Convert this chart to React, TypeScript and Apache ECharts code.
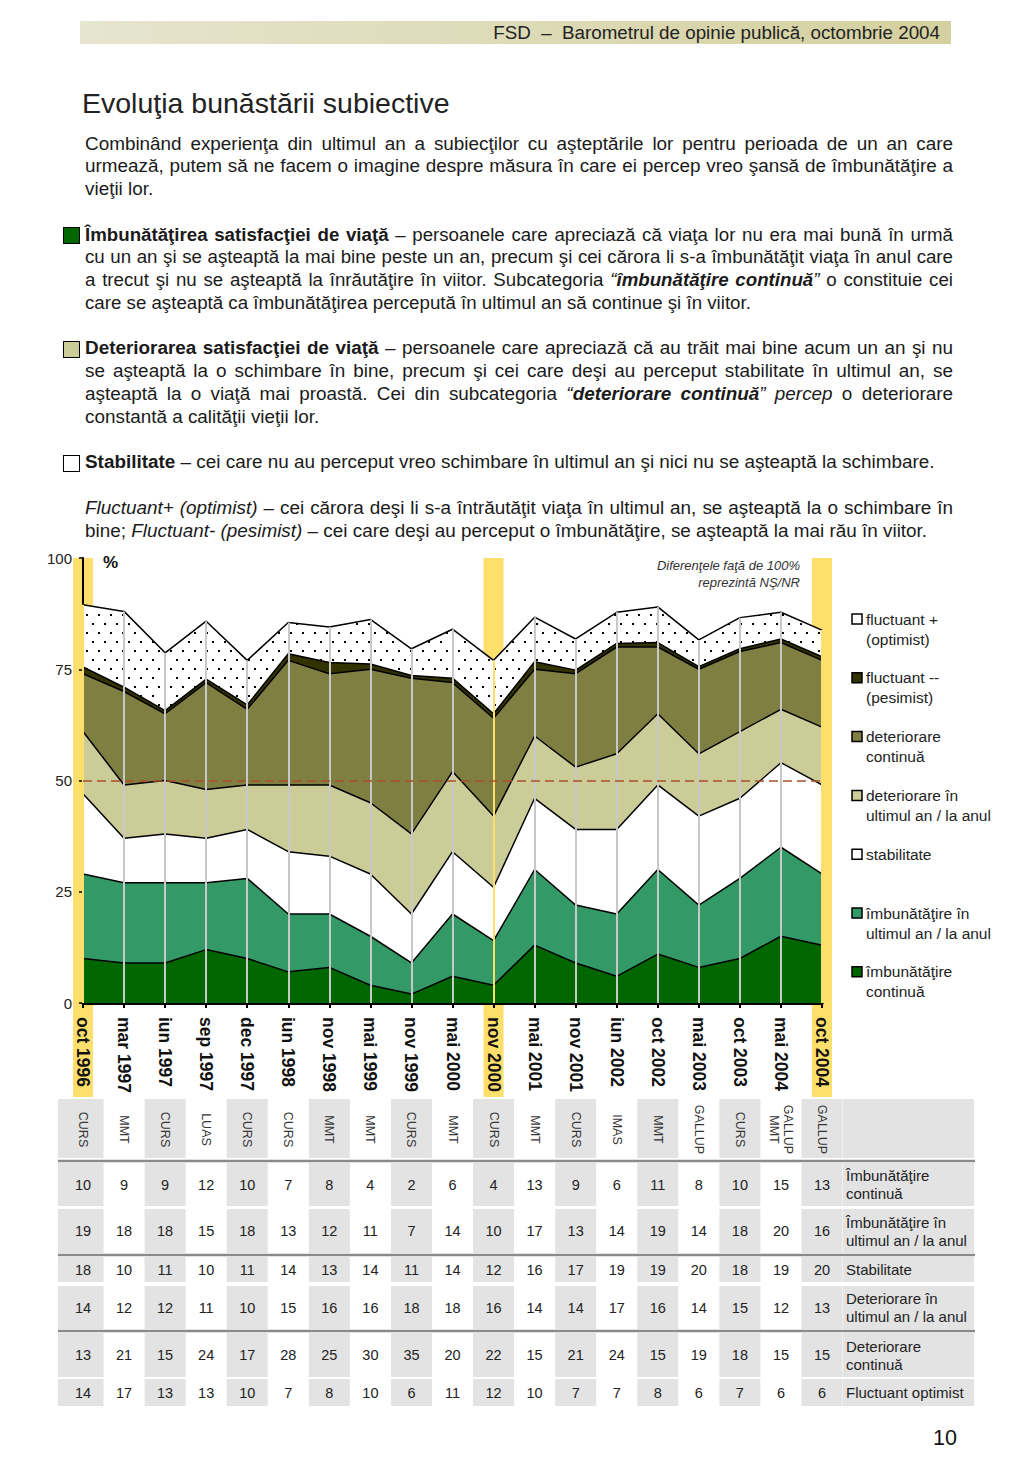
import React, { useEffect, useRef } from "react";
import * as echarts from "echarts";

// ---------- DATA ----------
const categories = [
  "oct 1996", "mar 1997", "iun 1997", "sep 1997", "dec 1997", "iun 1998", "nov 1998",
  "mai 1999", "nov 1999", "mai 2000", "nov 2000", "mai 2001", "nov 2001", "iun 2002",
  "oct 2002", "mai 2003", "oct 2003", "mai 2004", "oct 2004",
];
const institutes = [
  "CURS", "MMT", "CURS", "LUAS", "CURS", "CURS", "MMT", "MMT", "CURS", "MMT",
  "CURS", "MMT", "CURS", "IMAS", "MMT", "GALLUP", "CURS", "GALLUP\nMMT", "GALLUP",
];
const imbunatatireContinua = [10, 9, 9, 12, 10, 7, 8, 4, 2, 6, 4, 13, 9, 6, 11, 8, 10, 15, 13];
const imbunatatireUltimAn = [19, 18, 18, 15, 18, 13, 12, 11, 7, 14, 10, 17, 13, 14, 19, 14, 18, 20, 16];
const stabilitate = [18, 10, 11, 10, 11, 14, 13, 14, 11, 14, 12, 16, 17, 19, 19, 20, 18, 19, 20];
const deteriorareUltimAn = [14, 12, 12, 11, 10, 15, 16, 16, 18, 18, 16, 14, 14, 17, 16, 14, 15, 12, 13];
const deteriorareContinua = [13, 21, 15, 24, 17, 28, 25, 30, 35, 20, 22, 15, 21, 24, 15, 19, 18, 15, 15];
const fluctuantPesimist = [1.5, 1, 0.7, 0.8, 1, 1.5, 2.5, 1.2, 0.6, 1, 1, 1.7, 0.8, 0.8, 1, 0.6, 0.6, 0.8, 0.8];
const fluctuantOptimist = [14, 17, 13, 13, 10, 7, 8, 10, 6, 11, 12, 10, 7, 7, 8, 6, 7, 6, 6];
const highlightedCategories = ["oct 1996", "nov 2000", "oct 2004"];
const referenceLineValue = 50;
const yMin = 0;
const yMax = 100;
const yInterval = 25;

const seriesNames = [
  "îmbunătăţire\ncontinuă",
  "îmbunătăţire în\nultimul an / la anul",
  "stabilitate",
  "deteriorare în\nultimul an / la anul",
  "deteriorare\ncontinuă",
  "fluctuant --\n(pesimist)",
  "fluctuant +\n(optimist)",
];
const seriesData = [
  imbunatatireContinua, imbunatatireUltimAn, stabilitate, deteriorareUltimAn,
  deteriorareContinua, fluctuantPesimist, fluctuantOptimist,
];
const seriesColors = ["#006600", "#339966", "#ffffff", "#cccc99", "#7f7f42", "#333300", "dots"];

const tableRowLabels = [
  "Îmbunătăţire\ncontinuă",
  "Îmbunătăţire în\nultimul an / la anul",
  "Stabilitate",
  "Deteriorare în\nultimul an / la anul",
  "Deteriorare\ncontinuă",
  "Fluctuant optimist",
];
const tableRows = [
  imbunatatireContinua, imbunatatireUltimAn, stabilitate,
  deteriorareUltimAn, deteriorareContinua, fluctuantOptimist,
];

// ---------- LAYOUT ----------
const FONT = "'Liberation Sans', Arial, Helvetica, sans-serif";
const CHART_TOP = 540;
const tableHeaderBand = [1099, 1158];
const tableRowBands = [[1163, 1206], [1209, 1253], [1257, 1282], [1286, 1329], [1333, 1377], [1379, 1406]];
const tableSeparators = [1161, 1255, 1331];

function Chart() {
  const ref = useRef<HTMLDivElement>(null);
  useEffect(() => {
    const chart = echarts.init(ref.current!, null, { renderer: "svg" });

    const dots = document.createElement("canvas");
    dots.width = 12;
    dots.height = 18;
    const ctx = dots.getContext("2d")!;
    ctx.fillStyle = "#ffffff";
    ctx.fillRect(0, 0, 12, 18);
    ctx.fillStyle = "#000000";
    ctx.fillRect(2, 2, 2, 2);
    ctx.fillRect(8, 11, 2, 2);
    const dotPattern: any = { image: dots, repeat: "repeat" };

    const totals = categories.map((_, i) => seriesData.reduce((s, d) => s + d[i], 0));

    const areaSeries = seriesData.map((d, k) => ({
      name: seriesNames[k],
      type: "line",
      stack: "total",
      data: d,
      symbol: "none",
      showSymbol: false,
      silent: true,
      z: 2,
      lineStyle: { color: "#000", width: 1.5 },
      areaStyle: { color: seriesColors[k] === "dots" ? dotPattern : seriesColors[k], opacity: 1 },
    }));

    const option: any = {
      animation: false,
      textStyle: { fontFamily: FONT },
      grid: { left: 83, right: 202, top: 18, bottom: 417, containLabel: false },
      xAxis: {
        type: "category",
        data: categories,
        boundaryGap: false,
        axisLine: { show: true, lineStyle: { color: "#000", width: 3 } },
        axisTick: { show: true, length: 5, lineStyle: { color: "#000", width: 2 } },
        axisLabel: {
          rotate: -90, interval: 0, margin: 14, fontSize: 17.5, fontWeight: "bold",
          color: "#111", fontFamily: FONT,
        },
        splitLine: { show: false },
      },
      yAxis: {
        type: "value",
        min: yMin,
        max: yMax,
        interval: yInterval,
        axisLine: { show: true, lineStyle: { color: "#000", width: 2 } },
        axisTick: { show: true, length: 4, lineStyle: { color: "#000", width: 1.5 } },
        axisLabel: { fontSize: 15, color: "#222", margin: 11, fontFamily: FONT },
        splitLine: { show: false },
      },
      series: [
        ...areaSeries,
        {
          name: "drop",
          type: "line",
          data: categories.map(() => null),
          symbol: "none",
          silent: true,
          z: 3,
          lineStyle: { opacity: 0 },
          markLine: {
            silent: true,
            symbol: ["none", "none"],
            label: { show: false },
            lineStyle: { type: "solid", width: 2, color: "#c8c8c8" },
            data: categories.map((c, i) => [
              {
                coord: [c, 0],
                lineStyle: {
                  color: highlightedCategories.includes(c) ? "#ffdf6b" : "#c8c8c8",
                  width: 2, type: "solid",
                },
              },
              { coord: [c, totals[i]] },
            ]),
          },
        },
        {
          name: "ref",
          type: "line",
          data: categories.map(() => null),
          symbol: "none",
          silent: true,
          z: 4,
          lineStyle: { opacity: 0 },
          markLine: {
            silent: true,
            symbol: ["none", "none"],
            label: { show: false },
            lineStyle: { type: [9, 5], width: 1.5, color: "#a8502a" },
            data: [{ yAxis: referenceLineValue }],
          },
        },
      ],
    };
    chart.setOption(option);

    const px = categories.map((c) => chart.convertToPixel({ xAxisIndex: 0 }, c) as number);
    const yTop = chart.convertToPixel({ yAxisIndex: 0 }, yMax) as number;
    const yZero = chart.convertToPixel({ yAxisIndex: 0 }, yMin) as number;
    const Y = (v: number) => v - CHART_TOP;

    const g: any[] = [];
    categories.forEach((c, i) => {
      if (!highlightedCategories.includes(c)) return;
      g.push({
        type: "rect", z: -5, silent: true,
        shape: { x: px[i] - 10, y: yTop, width: 20, height: yZero + 94 - yTop },
        style: { fill: "#ffdf6b" },
      });
    });
    g.push({
      type: "text", x: 103, y: yTop + 4, z: 10, silent: true,
      style: { text: "%", font: `bold 17px ${FONT}`, fill: "#111", textAlign: "left", textVerticalAlign: "middle" },
    });
    g.push({
      type: "text", x: 800, y: yTop - 1.5, z: 10, silent: true,
      style: {
        text: "Diferenţele faţă de 100%\nreprezintă NŞ/NR", font: `italic 13px ${FONT}`, fill: "#333",
        textAlign: "right", textVerticalAlign: "top", lineHeight: 17,
      },
    });
    const legendOrder = [6, 5, 4, 3, 2, 1, 0];
    legendOrder.forEach((k, j) => {
      const cy = Y(619) + j * 58.8;
      const col = seriesColors[k] === "dots" ? "#ffffff" : seriesColors[k];
      g.push({
        type: "rect", z: 10, silent: true,
        shape: { x: 852, y: cy - 5, width: 10, height: 10 },
        style: { fill: col, stroke: "#000", lineWidth: 1.5 },
      });
      g.push({
        type: "text", x: 866, y: cy - 10, z: 10, silent: true,
        style: {
          text: seriesNames[k], font: `15.5px ${FONT}`, fill: "#222",
          textAlign: "left", textVerticalAlign: "top", lineHeight: 20,
        },
      });
    });
    const cellFill = "#e3e3e3";
    const bands = [tableHeaderBand, ...tableRowBands];
    bands.forEach((b) => {
      categories.forEach((_, i) => {
        if (i % 2 !== 0) return;
        const left = i === 0 ? 58 : px[i] - 20.5;
        g.push({
          type: "rect", z: 1, silent: true,
          shape: { x: left, y: Y(b[0]), width: px[i] + 20.5 - left, height: b[1] - b[0] },
          style: { fill: cellFill },
        });
      });
      g.push({
        type: "rect", z: 1, silent: true,
        shape: { x: 843, y: Y(b[0]), width: 131, height: b[1] - b[0] },
        style: { fill: cellFill },
      });
    });
    tableSeparators.forEach((s) => {
      g.push({
        type: "line", z: 3, silent: true,
        shape: { x1: 58, y1: Y(s), x2: 975, y2: Y(s) },
        style: { stroke: "#8a8a8a", lineWidth: 2.5 },
      });
    });
    institutes.forEach((t, i) => {
      g.push({
        type: "text", x: px[i], y: Y((tableHeaderBand[0] + tableHeaderBand[1]) / 2 + 1),
        rotation: -Math.PI / 2, z: 5, silent: true,
        style: {
          text: t, font: `12.5px ${FONT}`, fill: "#333", textAlign: "center",
          textVerticalAlign: "middle", lineHeight: 14,
        },
      });
    });
    tableRows.forEach((row, r) => {
      const cy = Y((tableRowBands[r][0] + tableRowBands[r][1]) / 2);
      row.forEach((v, i) => {
        g.push({
          type: "text", x: px[i], y: cy, z: 5, silent: true,
          style: {
            text: String(v), font: `14.5px ${FONT}`, fill: "#222",
            textAlign: "center", textVerticalAlign: "middle",
          },
        });
      });
      g.push({
        type: "text", x: 846, y: cy, z: 5, silent: true,
        style: {
          text: tableRowLabels[r], font: `15px ${FONT}`, fill: "#222",
          textAlign: "left", textVerticalAlign: "middle", lineHeight: 18,
        },
      });
    });

    chart.setOption({ graphic: { elements: g } });
    return () => chart.dispose();
  }, []);
  return <div ref={ref} style={{ position: "absolute", left: 0, top: CHART_TOP, width: 1024, height: 880 }} />;
}

const sq = (bg: string): React.CSSProperties => ({
  position: "absolute", left: -22, top: 3.5, width: 15, height: 15,
  border: "1px solid #000", background: bg,
});

export default function App() {
  const pStyle: React.CSSProperties = { margin: 0, marginBottom: "22.76px", position: "relative" };
  return (
    <div style={{ position: "absolute", left: 0, top: 0, width: 1024, height: 1479, background: "#fff", fontFamily: FONT, color: "#1a1a1a", overflow: "hidden" }}>
      <div style={{ position: "absolute", left: 80, top: 21, width: 871, height: 23, background: "linear-gradient(to right, #e6e5cf, #d4d09f)" }} />
      <div style={{ position: "absolute", right: 84, top: 21, height: 23, lineHeight: "24px", fontSize: 18.8, color: "#222", whiteSpace: "nowrap" }}>
        {"FSD\u00a0\u00a0–\u00a0\u00a0Barometrul de opinie publică, octombrie 2004"}
      </div>
      <div style={{ position: "absolute", left: 82, top: 87, fontSize: 28.5, lineHeight: "32px", color: "#222", whiteSpace: "nowrap" }}>
        Evoluţia bunăstării subiective
      </div>
      <div style={{ position: "absolute", left: 85, top: 132.6, width: 868, fontSize: 18.9, lineHeight: "22.76px", textAlign: "justify" }}>
        <p style={pStyle}>
          Combinând experienţa din ultimul an a subiecţilor cu aşteptările lor pentru perioada de un an care urmează, putem să ne facem o imagine despre măsura în care ei percep vreo şansă de îmbunătăţire a vieţii lor.
        </p>
        <p style={{ ...pStyle, fontSize: 18.7 }}>
          <span style={sq("#006600")} />
          <b>Îmbunătăţirea satisfacţiei de viaţă</b> – persoanele care apreciază că viaţa lor nu era mai bună în urmă cu un an şi se aşteaptă la mai bine peste un an, precum şi cei cărora li s-a îmbunătăţit viaţa în anul care a trecut şi nu se aşteaptă la înrăutăţire în viitor. Subcategoria <i>“<b>îmbunătăţire continuă</b>”</i> o constituie cei care se aşteaptă ca îmbunătăţirea percepută în ultimul an să continue şi în viitor.
        </p>
        <p style={pStyle}>
          <span style={sq("#cccc99")} />
          <b>Deteriorarea satisfacţiei de viaţă</b> – persoanele care apreciază că au trăit mai bine acum un an şi nu se aşteaptă la o schimbare în bine, precum şi cei care deşi au perceput stabilitate în ultimul an, se aşteaptă la o viaţă mai proastă. Cei din subcategoria <i>“<b>deteriorare continuă</b>” percep</i> o deteriorare constantă a calităţii vieţii lor.
        </p>
        <p style={pStyle}>
          <span style={sq("#ffffff")} />
          <b>Stabilitate</b> – cei care nu au perceput vreo schimbare în ultimul an şi nici nu se aşteaptă la schimbare.
        </p>
        <p style={pStyle}>
          <i>Fluctuant+ (optimist)</i> – cei cărora deşi li s-a întrăutăţit viaţa în ultimul an, se aşteaptă la o schimbare în bine; <i>Fluctuant- (pesimist)</i> – cei care deşi au perceput o îmbunătăţire, se aşteaptă la mai rău în viitor.
        </p>
      </div>
      <Chart />
      <div style={{ position: "absolute", left: 933, top: 1426, fontSize: 21.5, lineHeight: "24px", color: "#111" }}>10</div>
    </div>
  );
}
